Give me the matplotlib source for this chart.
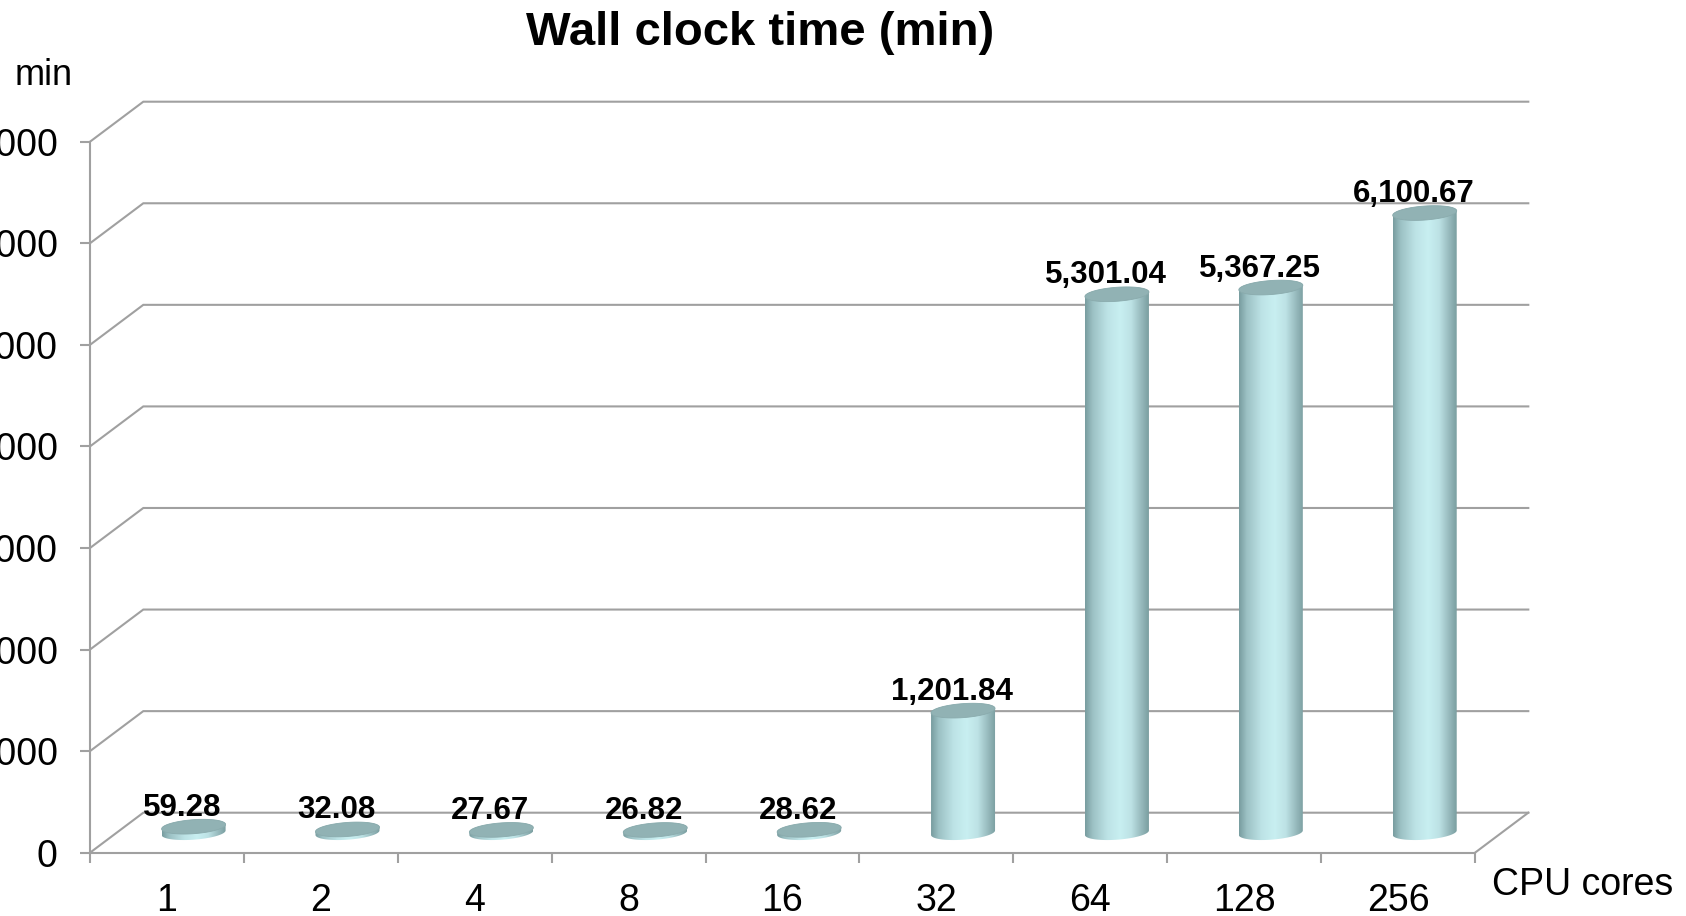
import numpy as np
import matplotlib
matplotlib.use("Agg")
import matplotlib.pyplot as plt
from matplotlib.patches import Polygon
from matplotlib.colors import LinearSegmentedColormap

# ---- data ----
cores = ["1", "2", "4", "8", "16", "32", "64", "128", "256"]
wall_minutes = [59.28, 32.08, 27.67, 26.82, 28.62, 1201.84, 5301.04, 5367.25, 6100.67]
y_ticks = [0, 1000, 2000, 3000, 4000, 5000, 6000, 7000]

plt.rcParams["font.family"] = ["Liberation Sans", "DejaVu Sans"]

W, H, DPI = 1686, 916, 100
fig = plt.figure(figsize=(W / DPI, H / DPI), dpi=DPI)
fig.patch.set_facecolor("white")

# front plane of the plot box, in pixels
left_px, right_px, bottom_px, top_px = 90.0, 1475.0, 852.7, 141.7
ax = fig.add_axes([left_px / W, 1 - bottom_px / H,
                   (right_px - left_px) / W, (bottom_px - top_px) / H])
n = len(cores)
ymax = y_ticks[-1]
ax.set_xlim(0, n)
ax.set_ylim(0, ymax)
ax.set_facecolor("none")

ux = (right_px - left_px) / n          # pixels per category
uy = (bottom_px - top_px) / ymax       # pixels per minute
depth_px = (53.3, 40.0)                # oblique depth of the 3-D box
ddx = depth_px[0] / ux
ddy = depth_px[1] / uy

grid = "#a0a0a0"
lw = 1.5

# side wall + back wall gridlines
for v in y_ticks:
    ax.plot([0, ddx, n + ddx], [v, v + ddy, v + ddy], color=grid, lw=lw,
            clip_on=False, zorder=1, solid_joinstyle="miter")
# right edge of the floor
ax.plot([n, n + ddx], [0, ddy], color=grid, lw=lw, clip_on=False, zorder=1)

for side in ("top", "right"):
    ax.spines[side].set_visible(False)
for side in ("left", "bottom"):
    ax.spines[side].set_color(grid)
    ax.spines[side].set_linewidth(lw)
    ax.spines[side].set_zorder(2)

ax.set_yticks(y_ticks, labels=[f"{v:,}" for v in y_ticks])
ax.tick_params(axis="y", direction="out", length=7.2, width=lw, color=grid,
               pad=16, labelsize=27)
ax.set_xticks(np.arange(n + 1), labels=[""] * (n + 1))
ax.set_xticks(np.arange(n) + 0.5, labels=cores, minor=True)
ax.tick_params(axis="x", which="major", direction="out", length=7.2,
               width=lw, color=grid)
ax.tick_params(axis="x", which="minor", length=0, pad=22, labelsize=27)

# ---- cylinders ----
cyl_cmap = LinearSegmentedColormap.from_list("cyl", [
    (0.00, "#789c9f"), (0.12, "#9cc1c4"), (0.35, "#bde3e6"),
    (0.55, "#c8eff1"), (0.72, "#bde2e5"), (0.88, "#97babd"),
    (1.00, "#7a9ea0")])
grad = np.linspace(0, 1, 256).reshape(1, -1)

a_px, b_px, shear = 32.0, 7.0, 0.07


def ellipse(cx, cy, t):
    X = a_px * np.cos(t)
    Y = b_px * np.sin(t) + shear * X
    return np.column_stack([cx + X / ux, cy + Y / uy])


base = ddy / 2
for i, val in enumerate(wall_minutes):
    cx = i + 0.5 + ddx / 2
    top = base + val
    bottom_arc = ellipse(cx, base, np.linspace(np.pi, 2 * np.pi, 80))
    top_arc = ellipse(cx, top, np.linspace(0, np.pi, 80))
    body = Polygon(np.vstack([bottom_arc, top_arc]), closed=True,
                   facecolor="none", edgecolor="none", zorder=3)
    ax.add_patch(body)
    ext = (b_px + shear * a_px + 2) / uy
    im = ax.imshow(grad, cmap=cyl_cmap, aspect="auto", zorder=3,
                   interpolation="bilinear",
                   extent=[cx - a_px / ux, cx + a_px / ux, base - ext, top + ext])
    im.set_clip_path(body)
    cap = Polygon(ellipse(cx, top, np.linspace(0, 2 * np.pi, 120)), closed=True,
                  facecolor="#91b2b4", edgecolor="#8aabad", lw=0.6, zorder=4)
    ax.add_patch(cap)
    ax.annotate(f"{val:,.2f}", xy=(cx, top), xytext=(-11 * 0.72, 11 * 0.72),
                textcoords="offset points", ha="center", va="baseline",
                fontsize=22.5, fontweight="bold", zorder=6, annotation_clip=False)

ax.set_xlim(0, n)
ax.set_ylim(0, ymax)

ax.annotate("CPU cores", xy=(1, 0), xycoords="axes fraction",
            xytext=(16.7 * 0.72, -42.3 * 0.72), textcoords="offset points",
            ha="left", va="baseline", fontsize=27, annotation_clip=False)

fig.text(15 / W, 1 - 85 / H, "min", ha="left", va="baseline", fontsize=26)
fig.text(760 / W, 1 - 45 / H, "Wall clock time (min)", ha="center",
         va="baseline", fontsize=34, fontweight="bold")

fig.savefig("out.png", dpi=DPI)
